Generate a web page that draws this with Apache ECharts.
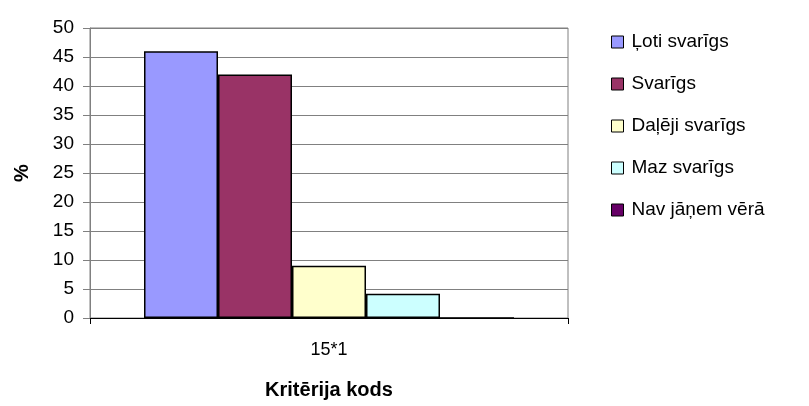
<!DOCTYPE html>
<html><head><meta charset="utf-8">
<script src="https://cdn.jsdelivr.net/npm/echarts@6/dist/echarts.min.js"></script>
<style>html,body{margin:0;padding:0;background:#fff}#c{width:809px;height:406px}</style>
</head><body><div id="c"></div>
<script>
const categories = ['15*1'];
const seriesNames = ['Ļoti svarīgs', 'Svarīgs', 'Daļēji svarīgs', 'Maz svarīgs', 'Nav jāņem vērā'];
const seriesValues = [[46], [42], [9], [4.2], [0]];
const colors = ['#9999FF', '#993366', '#FFFFCC', '#CCFFFF', '#660066'];
const font = 'Liberation Sans, Arial, sans-serif';

const chart = echarts.init(document.getElementById('c'), null, {renderer: 'canvas'});
chart.setOption({
  animation: false,
  backgroundColor: '#fff',
  grid: {left: 90, right: 241, top: 28, bottom: 88, show: true, borderColor: '#808080', borderWidth: 1},
  legend: {
    orient: 'vertical', left: 611, top: 32, padding: 0, itemWidth: 12, itemHeight: 12, itemGap: 22,
    icon: 'rect',
    textStyle: {fontFamily: font, fontSize: 19, color: '#000', lineHeight: 20, padding: [0,0,0,3]},
    itemStyle: {borderColor: '#000', borderWidth: 1},
    data: seriesNames
  },
  xAxis: {
    type: 'category', data: categories,
    name: 'Kritērija kods', nameLocation: 'middle', nameGap: 62,
    nameTextStyle: {fontFamily: font, fontSize: 20, fontWeight: 'bold', color: '#000'},
    axisLine: {lineStyle: {color: '#000', width: 1}},
    axisTick: {show: true, length: 6, lineStyle: {color: '#000'}},
    axisLabel: {fontFamily: font, fontSize: 18, color: '#000', margin: 23}
  },
  yAxis: {
    type: 'value', min: 0, max: 50, interval: 5,
    name: '%', nameLocation: 'middle', nameGap: 58, nameRotate: 90,
    nameTextStyle: {fontFamily: font, fontSize: 20, fontWeight: 'bold', color: '#000'},
    axisLine: {show: true, lineStyle: {color: '#808080'}},
    axisTick: {show: true, length: 7, lineStyle: {color: '#808080'}},
    axisLabel: {fontFamily: font, fontSize: 19, color: '#000', margin: 16},
    splitLine: {lineStyle: {color: '#808080', width: 1}}
  },
  series: seriesNames.map((n, i) => ({
    name: n, type: 'bar', data: seriesValues[i],
    barWidth: 74, barGap: '0%',
    itemStyle: {color: colors[i], borderColor: '#000', borderWidth: 1.5}
  }))
});
</script></body></html>
